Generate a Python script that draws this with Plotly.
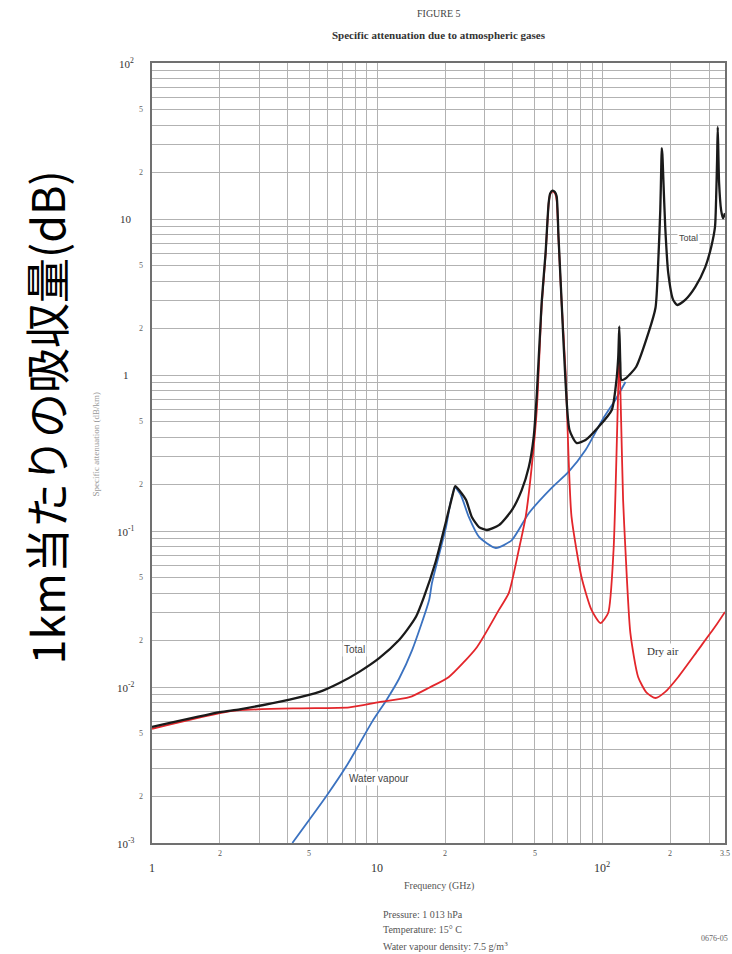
import numpy as np
import plotly.graph_objects as go

# ---------------- data ----------------
dry_f = [1.0, 2.0, 2.45, 4.52, 7.52, 10.2, 13.9, 17.0, 20.8, 27.7, 34.7, 38.4, 42.5, 45.6,
         48.5, 51.1, 53.7, 55.9, 57.7, 58.6, 60.0, 61.5, 62.6, 63.8, 65.9, 68.6, 70.7, 72.9,
         80.7, 89.4, 98.0, 106.0, 112.0, 114.0, 116.5, 118.75, 121.0, 123.5, 126.5, 133.0,
         144.0, 157.0, 172.0, 190.0, 217.0, 266.0, 316.0, 350.0]
dry_v = [0.0054, 0.0068, 0.0071, 0.0073, 0.0074, 0.0080, 0.0086, 0.0099, 0.0116, 0.0180,
         0.0312, 0.0401, 0.0755, 0.123, 0.257, 0.60, 2.75, 5.9, 12.5, 14.4, 15.0, 14.6,
         13.2, 7.5, 2.85, 1.05, 0.30, 0.123, 0.0507, 0.0312, 0.0257, 0.0298, 0.0755, 0.158,
         0.515, 1.34, 0.515, 0.158, 0.0755, 0.0222, 0.0116, 0.0092, 0.0085, 0.0093, 0.0116,
         0.0173, 0.0243, 0.0303]

wv_f = [4.2, 5.95, 7.29, 8.32, 9.5, 10.96, 12.5, 14.3, 17.0, 17.5, 20.2, 21.3, 22.2, 23.5,
        25.5, 28.3, 33.6, 39.6, 47.1, 59.5, 70.7, 84.1, 101.0, 114.0, 126.5]
wv_v = [0.00100, 0.00200, 0.00310, 0.00430, 0.00600, 0.00820, 0.0113, 0.0173, 0.0361,
        0.0464, 0.106, 0.160, 0.189, 0.170, 0.123, 0.0916, 0.0778, 0.0875, 0.130, 0.189,
        0.239, 0.330, 0.530, 0.692, 0.902]

tot_f = [1.0, 2.0, 2.45, 4.08, 5.54, 6.79, 8.32, 10.2, 12.5, 13.6, 14.9, 16.1, 18.2, 20.2,
         21.5, 22.2, 23.3, 24.8, 26.3, 28.3, 30.7, 34.7, 39.6, 43.8, 47.1, 49.5, 51.1, 53.7,
         55.9, 57.7, 58.6, 60.0, 61.5, 62.6, 63.8, 65.9, 68.6, 71.4, 76.7, 84.1, 96.0,
         110.0, 115.0, 117.5, 118.75, 120.0, 121.4, 126.5, 141.0, 160.0, 172.0, 177.0,
         180.6, 182.4, 183.3, 184.5, 186.2, 190.0, 195.9, 206.0, 215.0, 233.0, 258.0,
         286.0, 304.0, 316.0, 319.5, 322.8, 325.0, 329.5, 336.4, 343.0, 350.0]
tot_v = [0.00555, 0.0069, 0.0072, 0.0083, 0.0093, 0.0106, 0.0125, 0.0153, 0.0200, 0.0233,
         0.0284, 0.0375, 0.064, 0.115, 0.165, 0.194, 0.180, 0.158, 0.123, 0.106, 0.1015,
         0.109, 0.136, 0.183, 0.257, 0.40, 0.75, 2.9, 6.05, 12.7, 14.6, 15.2, 14.9, 14.0,
         7.7, 2.9, 0.889, 0.444, 0.367, 0.383, 0.464, 0.597, 0.889, 1.3, 2.05, 1.2, 0.929,
         0.95, 1.125, 1.86, 2.7, 5.46, 11.4, 21.5, 28.5, 26.0, 18.6, 8.89, 4.51, 3.03,
         2.81, 3.03, 3.66, 4.92, 6.62, 8.89, 13.2, 23.9, 38.9, 17.0, 11.4, 10.1, 10.9]

x_minor_vals = [2, 5, 20, 50, 200, 350]
x_minor_text = ["2", "5", "2", "5", "2", "3.5"]
x_major_vals = [1, 10, 100]
x_major_text = ["1", "10", "10<sup>2</sup>"]

y_minor_vals = [50, 20, 5, 2, 0.5, 0.2, 0.05, 0.02, 0.005, 0.002]
y_minor_text = ["5", "2", "5", "2", "5", "2", "5", "2", "5", "2"]
y_major_vals = [100, 10, 1, 0.1, 0.01, 0.001]
y_major_text = ["10<sup>2</sup>", "10", "1", "10<sup>-1</sup>", "10<sup>-2</sup>", "10<sup>-3</sup>"]

# ---------------- figure ----------------
SERIF = "Liberation Serif, Times New Roman, serif"
SANS = "Liberation Sans, Arial, sans-serif"

fig = go.Figure()
fig.add_trace(go.Scatter(x=wv_f, y=wv_v, mode="lines", name="Water vapour",
                         line=dict(color="#3b72c0", width=1.8, shape="spline", smoothing=0.6)))
fig.add_trace(go.Scatter(x=dry_f, y=dry_v, mode="lines", name="Dry air",
                         line=dict(color="#e3262b", width=1.8, shape="spline", smoothing=0.6)))
fig.add_trace(go.Scatter(x=tot_f, y=tot_v, mode="lines", name="Total",
                         line=dict(color="#1a1a1a", width=2.3, shape="spline", smoothing=0.6)))


def A(**kw):
    d = dict(showarrow=False, xanchor="center", yanchor="middle")
    d.update(kw)
    return d


ann = []
for v, t in zip(x_minor_vals, x_minor_text):
    ann.append(A(x=np.log10(v), y=-0.014, xref="x", yref="paper", text=t,
                 font=dict(family=SERIF, size=8, color="#555")))
for v, t in zip(x_major_vals, x_major_text):
    ann.append(A(x=np.log10(v), y=-0.032, xref="x", yref="paper", text=t,
                 font=dict(family=SERIF, size=12, color="#333")))
for v, t in zip(y_minor_vals, y_minor_text):
    ann.append(A(x=-0.019, y=np.log10(v), xref="paper", yref="y", text=t,
                 font=dict(family=SERIF, size=8, color="#666")))
for v, t in zip(y_major_vals, y_major_text):
    ann.append(A(x=-0.045, y=np.log10(v), xref="paper", yref="y", text=t,
                 font=dict(family=SERIF, size=11, color="#333")))

# titles / notes
ann += [
    A(x=0.5, y=1.063, xref="paper", yref="paper", text="FIGURE 5",
      font=dict(family=SERIF, size=10, color="#444")),
    A(x=0.5, y=1.036, xref="paper", yref="paper",
      text="<b>Specific attenuation due to atmospheric gases</b>",
      font=dict(family=SERIF, size=11, color="#333")),
    A(x=0.5, y=-0.055, xref="paper", yref="paper", text="Frequency (GHz)",
      font=dict(family=SERIF, size=10, color="#555")),
    A(x=0.40, y=-0.0923, xref="paper", yref="paper", text="Pressure: 1 013 hPa",
      xanchor="left", font=dict(family=SERIF, size=10, color="#555")),
    A(x=0.40, y=-0.1115, xref="paper", yref="paper", text="Temperature: 15° C",
      xanchor="left", font=dict(family=SERIF, size=10, color="#555")),
    A(x=0.40, y=-0.132, xref="paper", yref="paper", text="Water vapour density: 7.5 g/m<sup>3</sup>",
      xanchor="left", font=dict(family=SERIF, size=10, color="#555")),
    A(x=0.981, y=-0.1218, xref="paper", yref="paper", text="0676-05",
      font=dict(family=SERIF, size=8, color="#666")),
    A(x=-0.097, y=0.5115, xref="paper", yref="paper", text="Specific attenuation (dB/km)",
      textangle=-90, font=dict(family=SERIF, size=9, color="#999")),
    A(x=-0.186, y=0.546, xref="paper", yref="paper", text="1km当たりの吸収量(dB)",
      textangle=-90, font=dict(family="Noto Sans CJK JP", size=45, color="#000")),
    # curve labels
    A(x=np.log10(7.9), y=np.log10(0.0173), xref="x", yref="y", text="Total",
      bgcolor="white", font=dict(family=SANS, size=10, color="#444")),
    A(x=np.log10(10.2), y=np.log10(0.00261), xref="x", yref="y", text="Water vapour",
      bgcolor="white", font=dict(family=SANS, size=10, color="#444")),
    A(x=np.log10(186), y=np.log10(0.0170), xref="x", yref="y", text="Dry air",
      bgcolor="white", font=dict(family=SERIF, size=11, color="#333")),
    A(x=np.log10(240), y=np.log10(7.55), xref="x", yref="y", text="Total",
      bgcolor="white", font=dict(family=SANS, size=9, color="#444")),
]

axis_common = dict(type="log", dtick="D1", showticklabels=False, ticks="",
                   showgrid=True, gridcolor="#b2b2b2", gridwidth=1.4,
                   showline=True, mirror=True, linecolor="#707070", linewidth=2,
                   zeroline=False)

fig.update_layout(
    width=732, height=954, autosize=False,
    margin=dict(l=152, r=5, t=63, b=111),
    paper_bgcolor="white", plot_bgcolor="white",
    showlegend=False,
    xaxis=dict(range=[0, np.log10(350)], **axis_common),
    yaxis=dict(range=[-3, 2], **axis_common),
    annotations=ann,
)

fig.write_html("out.html", config={"displayModeBar": False},
               post_script="document.body.style.margin='0';document.body.style.overflow='hidden';")
